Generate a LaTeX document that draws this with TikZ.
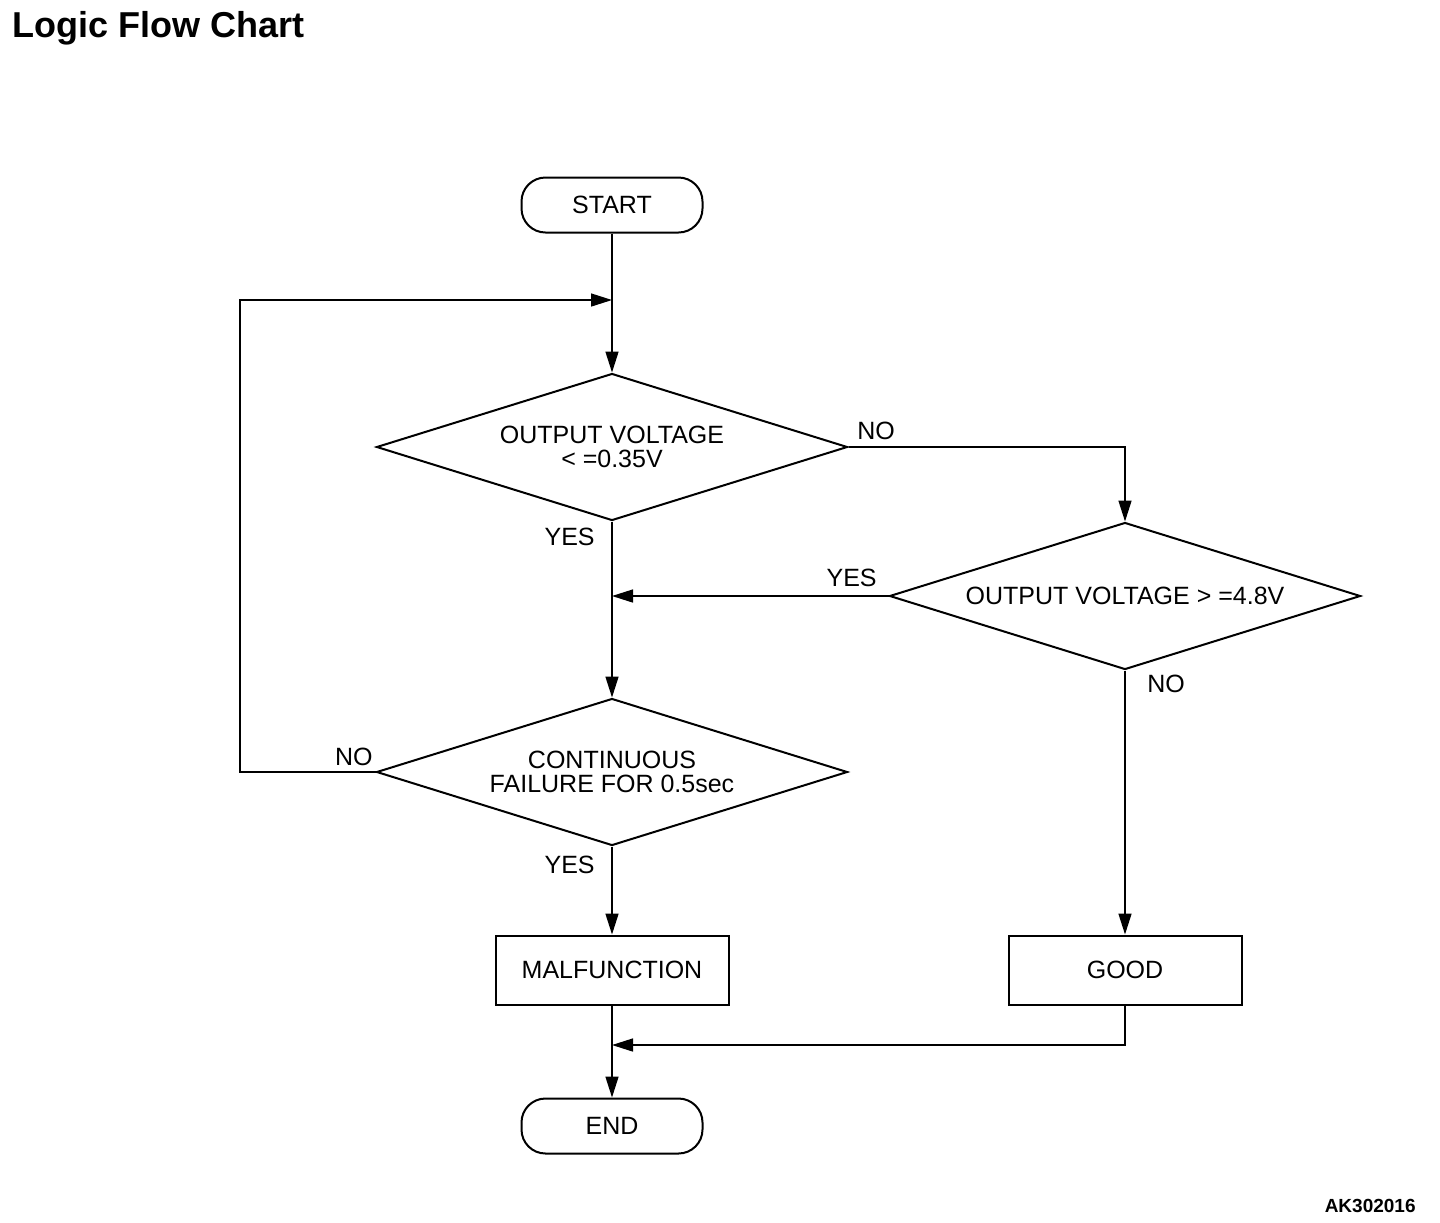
\documentclass[tikz,border=0pt]{standalone}
\usepackage{fontspec}
\setmainfont{Liberation Sans}
\usetikzlibrary{shapes.geometric,arrows.meta,positioning,calc}

\begin{document}
\begin{tikzpicture}[x=0.5pt,y=-0.5pt,
  every node/.style={font=\fontsize{12.5}{12}\selectfont},
  term/.style={draw,line width=1pt,rounded corners=12pt,minimum width=90.5pt,minimum height=27.5pt,inner sep=0pt},
  test/.style={draw,diamond,line width=1pt,aspect=3.2,minimum width=235.5pt,minimum height=73.5pt,inner sep=0pt,align=center},
  blk/.style={draw,line width=1pt,minimum width=116.5pt,minimum height=34.5pt,inner sep=0pt},
  link/.style={line width=0.75pt},
  flow/.style={link,-{Triangle[length=10.5pt,width=6.5pt]}},
  lbl/.style={inner sep=0pt}]
  \useasboundingbox (0,0) rectangle (1440,1222);

  % title and code
  \node[font=\fontsize{18}{18}\selectfont\bfseries,anchor=base west,inner sep=0pt] (ttl) at (12,37) {Logic Flow Chart};
  \node[font=\fontsize{9.5}{9.5}\selectfont\bfseries,anchor=base east,inner sep=0pt] (code) at (1416,1212) {AK302016};

  % blocks
  \node[term] (st) at (612,205) {START};
  \node[test] (d1) at (612,447) {OUTPUT VOLTAGE\\< =0.35V};
  \node[test] (d2) at (1125,596) {OUTPUT VOLTAGE > =4.8V};
  \node[test] (d3) at (612,772) {CONTINUOUS\\FAILURE FOR 0.5sec};
  \node[blk] (m1) at (612,970) {MALFUNCTION};
  \node[blk] (g1) at (1125,970) {GOOD};
  \node[term] (en) at (612,1126) {END};

  \coordinate (j1) at (612,300);
  \coordinate (j2) at (612,596);
  \coordinate (j3) at (612,1045);
  \coordinate (c1) at (240,772);

  % connectors
  \draw[link] (st) -- (j1);
  \draw[flow] (j1) -- (d1);
  \draw[flow] (d1) -| (d2);
  \draw[flow] (d2) -- (j2);
  \draw[link] (d1) -- (j2);
  \draw[flow] (j2) -- (d3);
  \draw[flow] (d3) -- (c1) |- (j1);
  \draw[flow] (d3) -- (m1);
  \draw[flow] (d2) -- (g1);
  \draw[flow] (g1) |- (j3);
  \draw[flow] (m1) -- (en);

  % labels
  \node[lbl,anchor=base east] (y1) at (595,545) {YES};
  \node[lbl,anchor=base west] (n1) at (857,439) {NO};
  \node[lbl,anchor=base east] (y2) at (877,586) {YES};
  \node[lbl,anchor=base west] (n2) at (1147,692) {NO};
  \node[lbl,anchor=base east] (n3) at (373,765) {NO};
  \node[lbl,anchor=base east] (y3) at (595,873) {YES};
\end{tikzpicture}
\end{document}
